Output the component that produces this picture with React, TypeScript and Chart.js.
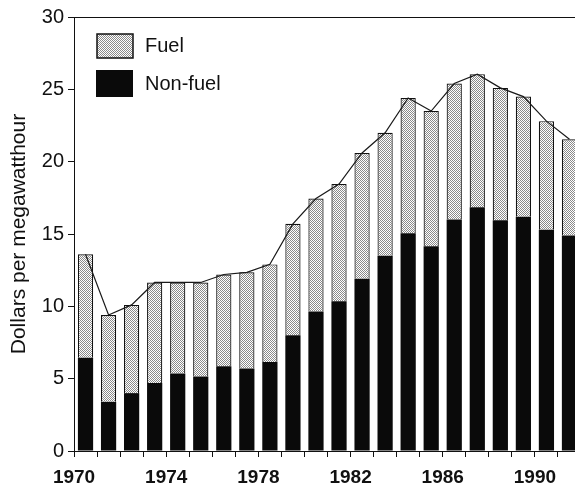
import React, { useEffect, useRef } from "react";
import { Chart, registerables } from "chart.js";

Chart.register(...registerables);

const years = [
  "1970", "1971", "1972", "1973", "1974", "1975", "1976", "1977", "1978", "1979", "1980",
  "1981", "1982", "1983", "1984", "1985", "1986", "1987", "1988", "1989", "1990", "1991",
];
const nonFuel = [
  6.45, 3.4, 4.0, 4.7, 5.35, 5.15, 5.85, 5.7, 6.15, 8.0, 9.65,
  10.35, 11.9, 13.5, 15.05, 14.15, 16.0, 16.85, 15.95, 16.2, 15.3, 14.9,
];
const fuel = [
  7.15, 6.0, 6.1, 6.95, 6.3, 6.5, 6.35, 6.65, 6.75, 7.7, 7.8,
  8.1, 8.7, 8.5, 9.35, 9.35, 9.4, 9.2, 9.15, 8.3, 7.5, 6.65,
];
const xTickLabels = ["1970", "1974", "1978", "1982", "1986", "1990"];
const yTitle = "Dollars per megawatthour";
const legendLabels = ["Fuel", "Non-fuel"];

const FONT = "'Liberation Sans', Arial, Helvetica, sans-serif";
const INK = "#111111";

function makePattern(): CanvasPattern | string {
  const c = document.createElement("canvas");
  c.width = 2;
  c.height = 2;
  const g = c.getContext("2d");
  if (!g) return "#cccccc";
  g.fillStyle = "#ffffff";
  g.fillRect(0, 0, 2, 2);
  g.fillStyle = "#8a8a8a";
  g.fillRect(0, 0, 1, 1);
  g.fillRect(1, 1, 1, 1);
  const p = g.createPattern(c, "repeat");
  return p || "#cccccc";
}

export default function App() {
  const ref = useRef<HTMLCanvasElement | null>(null);

  useEffect(() => {
    const canvas = ref.current;
    if (!canvas) return;
    const pattern = makePattern();
    const totals = nonFuel.map((v, i) => +(v + fuel[i]).toFixed(2));

    const framePlugin = {
      id: "frameAndLegend",
      afterDraw(chart: any) {
        const { ctx, chartArea } = chart;
        ctx.save();
        // top frame line
        ctx.strokeStyle = INK;
        ctx.lineWidth = 1;
        ctx.beginPath();
        ctx.moveTo(chartArea.left - 1, Math.round(chartArea.top) + 0.5);
        ctx.lineTo(chartArea.right, Math.round(chartArea.top) + 0.5);
        ctx.stroke();

        // legend
        ctx.fillStyle = pattern as any;
        ctx.fillRect(97, 34, 36, 24);
        ctx.lineWidth = 1.5;
        ctx.strokeStyle = INK;
        ctx.strokeRect(97, 34, 36, 24);
        ctx.fillStyle = "#0a0a0a";
        ctx.fillRect(96, 70, 37, 27);

        ctx.fillStyle = INK;
        ctx.font = `20px ${FONT}`;
        ctx.textBaseline = "middle";
        ctx.textAlign = "left";
        ctx.fillText(legendLabels[0], 145, 46);
        ctx.fillText(legendLabels[1], 145, 84);
        ctx.restore();
      },
    };

    const chart = new Chart(canvas, {
      type: "bar",
      data: {
        labels: years,
        datasets: [
          {
            type: "line",
            label: "Total",
            data: totals,
            stack: "total",
            borderColor: "#1a1a1a",
            borderWidth: 1.2,
            pointRadius: 0,
            tension: 0,
            fill: false,
            order: 0,
          } as any,
          {
            label: legendLabels[1],
            data: nonFuel,
            stack: "bars",
            backgroundColor: "#0a0a0a",
            borderWidth: 0,
            barPercentage: 0.66,
            categoryPercentage: 1,
            order: 1,
          },
          {
            label: legendLabels[0],
            data: fuel,
            stack: "bars",
            backgroundColor: pattern as any,
            borderColor: INK,
            borderWidth: 1.2,
            barPercentage: 0.66,
            categoryPercentage: 1,
            order: 2,
          },
        ],
      },
      options: {
        responsive: false,
        animation: false,
        devicePixelRatio: 1,
        layout: { padding: { top: 17, left: 0, right: 0, bottom: 0 } },
        plugins: {
          legend: { display: false },
          tooltip: { enabled: false },
        },
        scales: {
          x: {
            stacked: true,
            offset: true,
            afterFit: (s: any) => {
              s.height = 36;
            },
            grid: {
              offset: true,
              drawOnChartArea: false,
              drawTicks: true,
              tickLength: 6,
              color: INK,
            },
            border: { display: true, color: INK, width: 1 },
            ticks: {
              autoSkip: false,
              maxRotation: 0,
              minRotation: 0,
              labelOffset: -11.5,
              padding: 9,
              color: INK,
              font: { family: FONT, size: 19, weight: "bold" },
              callback: function (this: any, _v: any, i: number) {
                const y = years[i];
                return xTickLabels.includes(y) ? y : "";
              },
            },
          },
          y: {
            stacked: true,
            min: 0,
            max: 30,
            afterFit: (s: any) => {
              s.width = 74;
            },
            grid: {
              drawOnChartArea: false,
              drawTicks: true,
              tickLength: 6,
              color: INK,
            },
            border: { display: true, color: INK, width: 1 },
            ticks: {
              stepSize: 5,
              padding: 4,
              color: INK,
              font: { family: FONT, size: 20 },
            },
            title: {
              display: true,
              text: yTitle,
              color: INK,
              font: { family: FONT, size: 21 },
              padding: { top: 7, bottom: 0 },
            },
          },
        },
      },
      plugins: [framePlugin],
    });

    return () => chart.destroy();
  }, []);

  return (
    <div
      style={{
        position: "fixed",
        left: 0,
        top: 0,
        width: 575,
        height: 487,
        overflow: "hidden",
        background: "#ffffff",
      }}
    >
      <canvas
        ref={ref}
        width={581}
        height={487}
        style={{ display: "block", width: 581, height: 487 }}
      />
    </div>
  );
}
